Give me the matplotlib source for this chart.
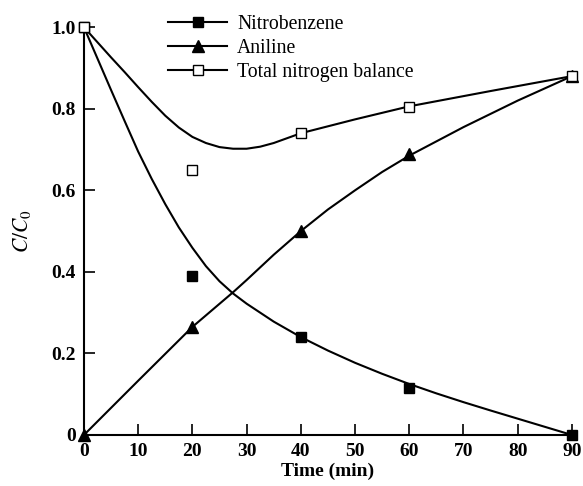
import numpy as np
import matplotlib.pyplot as plt

plt.rcParams['font.family'] = ['Liberation Serif', 'DejaVu Serif']
plt.rcParams['mathtext.fontset'] = 'stix'

# measured points
t = [0, 20, 40, 60, 90]
nitrobenzene = [1.0, 0.39, 0.24, 0.115, 0.0]
aniline = [0.0, 0.265, 0.50, 0.69, 0.88]
total_n = [1.0, 0.65, 0.74, 0.805, 0.88]

# fitted curves
t_nb = [0, 2.5, 5, 7.5, 10, 12.5, 15, 17.5, 20, 22.5, 25, 27.5, 30, 35, 40,
        45, 50, 55, 60, 65, 70, 75, 80, 85, 90]
nb_fit = [1.0, 0.923, 0.846, 0.770, 0.695, 0.628, 0.566, 0.509, 0.459,
          0.414, 0.377, 0.347, 0.322, 0.278, 0.240, 0.207, 0.177, 0.150,
          0.125, 0.102, 0.0805, 0.060, 0.040, 0.020, 0.0]

t_an = [0, 10, 20, 27.5, 30, 35, 40, 45, 50, 55, 60, 70, 80, 90]
an_fit = [0.0, 0.133, 0.265, 0.35, 0.38, 0.442, 0.50, 0.553, 0.60, 0.645,
          0.685, 0.755, 0.82, 0.88]

t_tn = [0, 2.5, 5, 7.5, 10, 12.5, 15, 17.5, 20, 22.5, 25, 27.5, 30, 32.5,
        35, 37.5, 40, 50, 60, 75, 90]
tn_fit = [1.0, 0.963, 0.926, 0.89, 0.853, 0.817, 0.783, 0.754, 0.731, 0.716,
          0.706, 0.702, 0.702, 0.707, 0.716, 0.728, 0.74, 0.774, 0.806,
          0.8435, 0.88]

fig = plt.figure(figsize=(5.83, 4.86), dpi=100)
ax = fig.add_axes([0.144, 0.105, 0.837, 0.839])

ax.plot(t_nb, nb_fit, color='black', lw=1.5)
ax.plot(t_an, an_fit, color='black', lw=1.5)
ax.plot(t_tn, tn_fit, color='black', lw=1.5)

ax.plot(t, nitrobenzene, ls='none', marker='s', ms=7, color='black', clip_on=False, zorder=5)
ax.plot(t, aniline, ls='none', marker='^', ms=8, color='black', clip_on=False, zorder=5)
ax.plot(t, total_n, ls='none', marker='s', ms=7, mfc='white', mec='black', mew=1.0,
        clip_on=False, zorder=5)

# legend handles: line with marker in the middle
h1, = ax.plot([], [], color='black', lw=1.5, marker='s', ms=7)
h2, = ax.plot([], [], color='black', lw=1.5, marker='^', ms=8)
h3, = ax.plot([], [], color='black', lw=1.5, marker='s', ms=7, mfc='white', mec='black')
ax.legend([h1, h2, h3], ['Nitrobenzene', 'Aniline', 'Total nitrogen balance'],
          loc='upper left', bbox_to_anchor=(0.156, 1.05), frameon=False,
          handlelength=3.0, fontsize=14.2, numpoints=1, labelspacing=0.27,
          handletextpad=0.5, borderaxespad=0)

ax.set_xlim(0, 90)
ax.set_ylim(0, 1.0)
ax.set_xticks(np.arange(0, 91, 10))
ax.set_yticks([0, 0.2, 0.4, 0.6, 0.8, 1.0])
ax.set_yticklabels(['0', '0.2', '0.4', '0.6', '0.8', '1.0'])
for lab in ax.get_xticklabels() + ax.get_yticklabels():
    lab.set_fontweight('bold')
    lab.set_fontsize(14)

ax.spines['top'].set_visible(False)
ax.spines['right'].set_visible(False)
ax.spines['left'].set_linewidth(1.5)
ax.spines['bottom'].set_linewidth(1.5)
ax.tick_params(direction='in', length=8, width=1.2, pad=6)

ax.set_xlabel('Time (min)', fontsize=14, fontweight='bold', labelpad=2)
ax.set_ylabel(r'$C/C_0$', fontsize=15.5, labelpad=13)

fig.savefig('out.png', dpi=100)
